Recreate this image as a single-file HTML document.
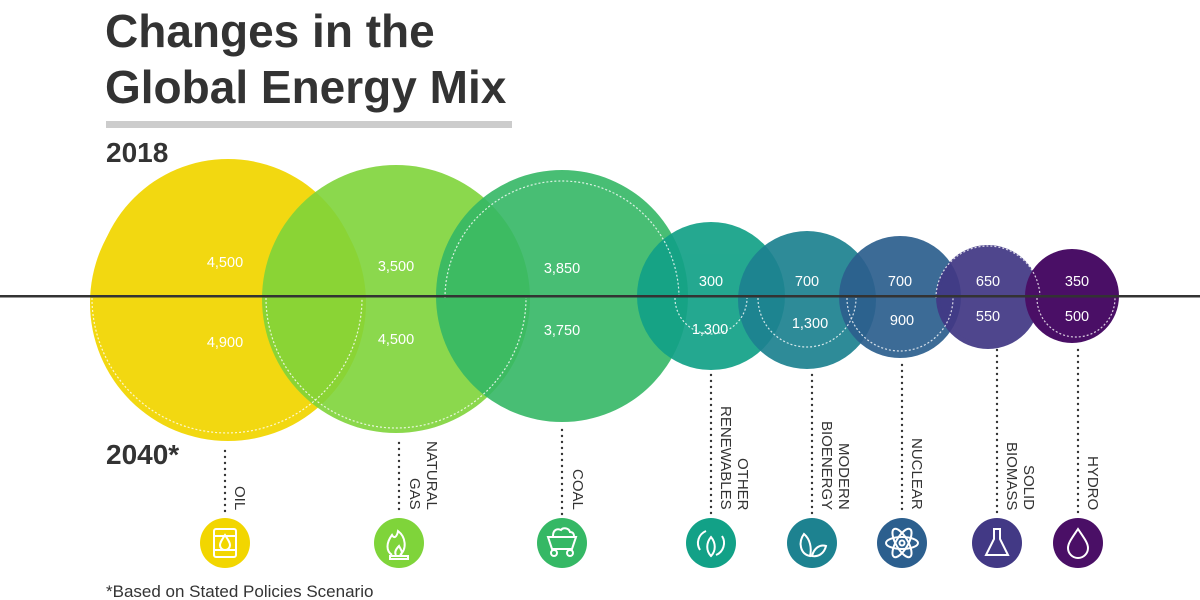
<!DOCTYPE html>
<html><head><meta charset="utf-8">
<style>
body{margin:0;background:#fff;}
svg{display:block;font-family:"Liberation Sans",sans-serif;}
.v{font-size:14.5px;fill:#fff;text-anchor:middle;}
.lab{position:absolute;writing-mode:vertical-rl;font-family:"Liberation Sans",sans-serif;font-size:15px;line-height:17px;color:#333;text-align:right;}
</style></head><body>
<div style="position:relative;width:1200px;height:600px;overflow:hidden;">
<svg width="1200" height="600" viewBox="0 0 1200 600">
<text x="105" y="47" font-size="46" font-weight="bold" fill="#333">Changes in the</text>
<text x="105" y="103" font-size="46" font-weight="bold" fill="#333">Global Energy Mix</text>
<rect x="106" y="121" width="406" height="7" fill="#cccccc"/>
<text x="106" y="162" font-size="28" font-weight="bold" fill="#333">2018</text>
<text x="106" y="464" font-size="28" font-weight="bold" fill="#333">2040*</text>
<text x="106" y="597" font-size="17" fill="#333">*Based on Stated Policies Scenario</text>

<g opacity="0.93">
<circle cx="228" cy="292" r="133" fill="#f2d600"/>
<circle cx="228" cy="303" r="138" fill="#f2d600"/>
</g>
<g opacity="0.9">
<circle cx="396" cy="296" r="118" fill="#7fd43a"/>
<circle cx="396" cy="299" r="134" fill="#7fd43a"/>
</g>
<g opacity="0.9">
<circle cx="562" cy="289" r="118" fill="#35b865"/>
<circle cx="562" cy="296" r="126" fill="#35b865"/>
</g>
<g opacity="0.92">
<circle cx="711" cy="298" r="36" fill="#12a187"/>
<circle cx="711" cy="296" r="74" fill="#12a187"/>
</g>
<g opacity="0.92">
<circle cx="807" cy="292" r="49" fill="#1d8290"/>
<circle cx="807" cy="300" r="69" fill="#1d8290"/>
</g>
<g opacity="0.92">
<circle cx="900" cy="296" r="53" fill="#2c5f8e"/>
<circle cx="900" cy="297" r="61" fill="#2c5f8e"/>
</g>
<g opacity="0.93">
<circle cx="988" cy="297" r="52" fill="#423985"/>
<circle cx="988" cy="296" r="48" fill="#423985"/>
</g>
<g>
<circle cx="1076" cy="296" r="39" fill="#4a0f66"/>
<circle cx="1072" cy="296" r="47" fill="#4a0f66"/>
</g>
<g fill="none" stroke="#fff" stroke-width="1.2" stroke-dasharray="2 2" opacity="0.8">
<path d="M 92 298 A 135 135 0 0 0 362 298"/>
<path d="M 266 298 A 130 130 0 0 0 526 298"/>
<path d="M 445 298 A 117 117 0 0 1 679 298"/>
<path d="M 675 298 A 36 36 0 0 0 747 298"/>
<path d="M 758 298 A 49 49 0 0 0 856 298"/>
<path d="M 847 298 A 53 53 0 0 0 953 298"/>
<path d="M 936 298 A 52 52 0 0 1 1040 298"/>
<path d="M 1037 298 A 39 39 0 0 0 1115 298"/>
</g>
<rect x="0" y="295" width="1200" height="2.5" fill="#333"/>

<text class="v" x="225" y="267">4,500</text><text class="v" x="225" y="347">4,900</text>
<text class="v" x="396" y="271">3,500</text><text class="v" x="396" y="344">4,500</text>
<text class="v" x="562" y="273">3,850</text><text class="v" x="562" y="335">3,750</text>
<text class="v" x="711" y="286">300</text><text class="v" x="710" y="334">1,300</text>
<text class="v" x="807" y="286">700</text><text class="v" x="810" y="328">1,300</text>
<text class="v" x="900" y="286">700</text><text class="v" x="902" y="325">900</text>
<text class="v" x="988" y="286">650</text><text class="v" x="988" y="321">550</text>
<text class="v" x="1077" y="286">350</text><text class="v" x="1077" y="321">500</text>

<g stroke="#333" stroke-width="2.4" stroke-linecap="round" stroke-dasharray="0 6">
<line x1="225" y1="451" x2="225" y2="515"/>
<line x1="399" y1="443" x2="399" y2="515"/>
<line x1="562" y1="430" x2="562" y2="515"/>
<line x1="711" y1="375" x2="711" y2="515"/>
<line x1="812" y1="375" x2="812" y2="515"/>
<line x1="902" y1="365" x2="902" y2="515"/>
<line x1="997" y1="350" x2="997" y2="515"/>
<line x1="1078" y1="350" x2="1078" y2="515"/>
</g>

<g>
<circle cx="225" cy="543" r="25" fill="#f2d600"/>
<circle cx="399" cy="543" r="25" fill="#7fd43a"/>
<circle cx="562" cy="543" r="25" fill="#35b865"/>
<circle cx="711" cy="543" r="25" fill="#12a187"/>
<circle cx="812" cy="543" r="25" fill="#1d8290"/>
<circle cx="902" cy="543" r="25" fill="#2c5f8e"/>
<circle cx="997" cy="543" r="25" fill="#423985"/>
<circle cx="1078" cy="543" r="25" fill="#4a0f66"/>
</g>
<g fill="none" stroke="#fff" stroke-width="2">
<rect x="214" y="529" width="22" height="28" rx="2"/><path d="M214 536h22M214 550h22M225 535c-4 6-5 8-5 10a5 5 0 0 0 10 0c0-2-1-4-5-10z"/>
<path d="M392 555c-6-4-6-12 0-20 2 4 5 2 6-4 8 6 9 18 2 24M396 555c-2-3 0-6 3-9 2 4 4 6 2 9"/><rect x="390" y="556" width="18" height="3"/>
<path d="M548 537h28l-4 12h-20z M553 536c0-6 4-8 8-6 2-3 8-2 9 2 3 0 4 2 4 4"/><circle cx="554" cy="553" r="3"/><circle cx="570" cy="553" r="3"/>
<path d="M700 550a13 13 0 0 1 6-19M722 536a13 13 0 0 1-6 19M711 556c-5-5-5-13 0-19 5 6 5 14 0 19z"/>
<path d="M810 556c-10-2-12-14-6-22 6 5 8 14 6 22zM812 556c2-8 8-12 14-10-2 8-8 11-14 10z"/>
<ellipse cx="902" cy="543" rx="16" ry="6"/><ellipse cx="902" cy="543" rx="16" ry="6" transform="rotate(60 902 543)"/><ellipse cx="902" cy="543" rx="16" ry="6" transform="rotate(-60 902 543)"/><circle cx="902" cy="543" r="2.5"/>
<path d="M993 529h8M994 529v10l-8 16h22l-8-16v-10"/>
<path d="M1078 529c-6 9-10 14-10 19a10 10 0 0 0 20 0c0-5-4-10-10-19z"/>
</g>
</svg>
<div class="lab" style="left:231px;bottom:90px;">OIL</div>
<div class="lab" style="left:406px;bottom:90px;">NATURAL<br>GAS</div>
<div class="lab" style="left:569px;bottom:90px;">COAL</div>
<div class="lab" style="left:717px;bottom:90px;">OTHER<br>RENEWABLES</div>
<div class="lab" style="left:818px;bottom:90px;">MODERN<br>BIOENERGY</div>
<div class="lab" style="left:908px;bottom:90px;">NUCLEAR</div>
<div class="lab" style="left:1003px;bottom:90px;">SOLID<br>BIOMASS</div>
<div class="lab" style="left:1084px;bottom:90px;">HYDRO</div>
</div>
</body></html>
